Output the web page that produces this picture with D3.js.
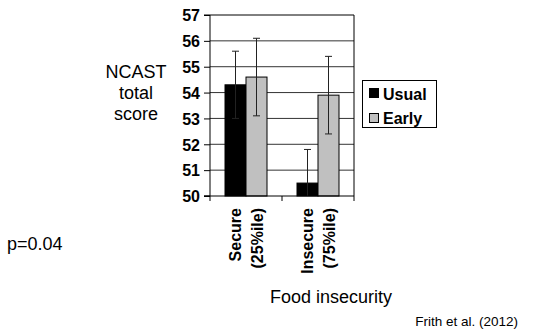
<!DOCTYPE html>
<html>
<head>
<meta charset="utf-8">
<script src="https://cdn.jsdelivr.net/npm/d3@7"></script>
<style>
  body { margin: 0; background: #fff; }
  text { font-family: Arial, "Liberation Sans", sans-serif; fill: #000; }
</style>
</head>
<body>
<svg id="chart" width="538" height="331"></svg>
<script>
// chart data
var categories = [["Secure", "(25%ile)"], ["Insecure", "(75%ile)"]];
var series = ["Usual", "Early"];
var means = [[54.3, 54.6], [50.5, 53.9]];
var errLow = [[53.0, 53.1], [49.2, 52.4]];
var errHigh = [[55.6, 56.1], [51.8, 55.4]];
var yTicks = [50, 51, 52, 53, 54, 55, 56, 57];
var colors = ["#000000", "#c0c0c0"];

var svg = d3.select("#chart");

var x0 = d3.scaleBand().domain([0, 1]).range([210, 354]);
var x1 = d3.scaleBand().domain([0, 1]).range([15, 57]);
var y = d3.scaleLinear().domain([50, 57]).range([196, 15]);

// gridlines
svg.append("g").selectAll("line").data(yTicks.slice(1, -1)).join("line")
  .attr("x1", 210).attr("x2", 354)
  .attr("y1", function(d) { return y(d); }).attr("y2", function(d) { return y(d); })
  .attr("stroke", "#333").attr("stroke-width", 1);

// plot frame top + right
svg.append("path")
  .attr("d", "M210," + y(57) + "H354V" + y(50))
  .attr("fill", "none").attr("stroke", "#000").attr("stroke-width", 1);

// bars
var groups = svg.append("g").selectAll("g").data(means).join("g")
  .attr("transform", function(d, i) { return "translate(" + x0(i) + ",0)"; });

groups.selectAll("rect").data(function(d) { return d; }).join("rect")
  .attr("x", function(d, j) { return x1(j); })
  .attr("width", x1.bandwidth())
  .attr("y", function(d) { return y(d); })
  .attr("height", function(d) { return y(50) - y(d); })
  .attr("fill", function(d, j) { return colors[j]; })
  .attr("stroke", "#000").attr("stroke-width", 1);

// error bars
groups.each(function(d, i) {
  var g = d3.select(this);
  for (var j = 0; j < d.length; j++) {
    var cx = x1(j) + x1.bandwidth() / 2;
    var lo = Math.max(errLow[i][j], 50);
    g.append("line").attr("x1", cx).attr("x2", cx)
      .attr("y1", y(lo)).attr("y2", y(errHigh[i][j]))
      .attr("stroke", "#222").attr("stroke-width", 1);
    g.append("line").attr("x1", cx - 3.5).attr("x2", cx + 3.5)
      .attr("y1", y(errHigh[i][j])).attr("y2", y(errHigh[i][j]))
      .attr("stroke", "#222").attr("stroke-width", 1);
    if (errLow[i][j] >= 50) {
      g.append("line").attr("x1", cx - 3.5).attr("x2", cx + 3.5)
        .attr("y1", y(errLow[i][j])).attr("y2", y(errLow[i][j]))
        .attr("stroke", "#222").attr("stroke-width", 1);
    }
  }
});

// y axis
var yAxis = svg.append("g").attr("transform", "translate(210,0)")
  .call(d3.axisLeft(y).tickValues(yTicks).tickSize(6).tickPadding(4).tickFormat(d3.format("d")));
yAxis.select(".domain").attr("d", "M-6," + y(57) + "H0V" + y(50) + "H-6").attr("stroke", "#000");
yAxis.selectAll("text").attr("font-size", 16).attr("font-weight", "bold")
  .attr("font-family", null).attr("fill", "#000").attr("dy", "0.36em");

// x axis
var xAxis = svg.append("g");
xAxis.append("line").attr("x1", 204).attr("x2", 354).attr("y1", y(50)).attr("y2", y(50)).attr("stroke", "#000");
xAxis.selectAll("line.tk").data([0, 1, 2]).join("line").attr("class", "tk")
  .attr("x1", function(d) { return x0.range()[0] + d * x0.bandwidth(); })
  .attr("x2", function(d) { return x0.range()[0] + d * x0.bandwidth(); })
  .attr("y1", y(50)).attr("y2", y(50) + 5).attr("stroke", "#000");

// category labels (rotated)
var labelOffsets = [-5, 17];
categories.forEach(function(c, i) {
  var cx = x0(i) + x0.bandwidth() / 2;
  c.forEach(function(line, k) {
    svg.append("text")
      .attr("transform", "translate(" + (cx + labelOffsets[k]) + ",208) rotate(-90)")
      .attr("text-anchor", "end")
      .attr("font-size", 16).attr("font-weight", "bold")
      .text(line);
  });
});

// y title
["NCAST", "total", "score"].forEach(function(t, k) {
  svg.append("text").attr("x", 136).attr("y", 78 + k * 21)
    .attr("text-anchor", "middle").attr("font-size", 18).text(t);
});

// legend
var legend = svg.append("g");
legend.append("rect").attr("x", 362.5).attr("y", 80.5).attr("width", 74).attr("height", 47)
  .attr("fill", "#fff").attr("stroke", "#000");
series.forEach(function(s, j) {
  legend.append("rect").attr("x", 369.5).attr("y", 88.5 + j * 25).attr("width", 9).attr("height", 9)
    .attr("fill", colors[j]).attr("stroke", "#000");
  legend.append("text").attr("x", 383).attr("y", 99.5 + j * 24)
    .attr("font-size", 16).attr("font-weight", "bold").text(s);
});

// other texts
svg.append("text").attr("x", 7).attr("y", 250).attr("font-size", 18).text("p=0.04");
svg.append("text").attr("x", 331).attr("y", 303).attr("text-anchor", "middle").attr("font-size", 18).text("Food insecurity");
svg.append("text").attr("x", 518).attr("y", 326).attr("text-anchor", "end").attr("font-size", 13.5).text("Frith et al. (2012)");
</script>
</body>
</html>
